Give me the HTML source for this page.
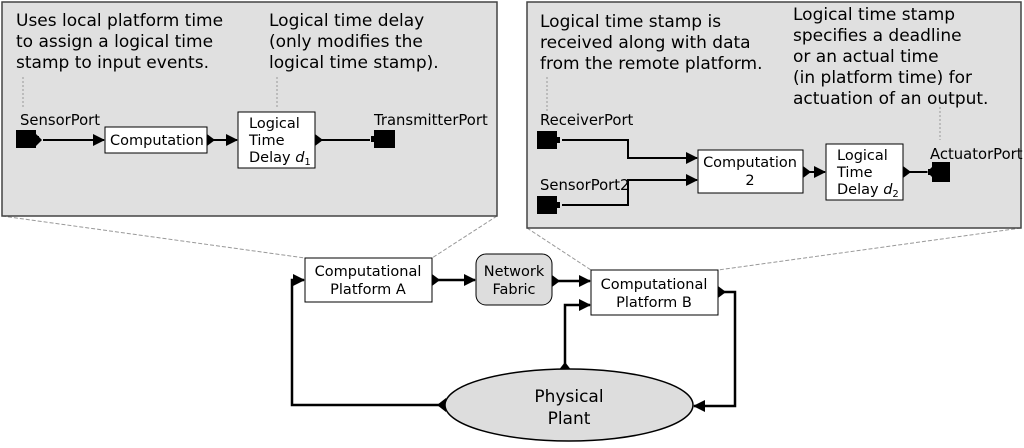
<!DOCTYPE html>
<html><head><style>
body{margin:0;background:#fff;width:1024px;height:443px;overflow:hidden}
svg text{font-family:"DejaVu Sans","Liberation Sans",sans-serif;fill:#000}
</style></head><body>
<svg width="1024" height="443" viewBox="0 0 1024 443" xmlns="http://www.w3.org/2000/svg">
<defs>
<marker id="a" markerWidth="12" markerHeight="12" refX="11" refY="6" orient="auto" markerUnits="userSpaceOnUse"><path d="M0,0 L12,6 L0,12 z" fill="#000"/></marker>
</defs>
<g stroke="#999" stroke-dasharray="4,2" fill="none">
<line x1="2" y1="216" x2="305" y2="258"/><line x1="497" y1="216" x2="432" y2="258"/>
<line x1="527" y1="228" x2="591" y2="270"/><line x1="1021" y1="228" x2="718" y2="270"/>
</g>
<rect x="2" y="2" width="495" height="214" fill="#e0e0e0" stroke="#444" stroke-width="1.5"/>
<rect x="527" y="2" width="494" height="226" fill="#e0e0e0" stroke="#444" stroke-width="1.5"/>
<g font-size="17">
<text x="16" y="26">Uses local platform time</text>
<text x="16" y="47">to assign a logical time</text>
<text x="16" y="68">stamp to input events.</text>
<text x="269" y="26">Logical time delay</text>
<text x="269" y="47">(only modifies the</text>
<text x="269" y="68">logical time stamp).</text>
<text x="540" y="27">Logical time stamp is</text>
<text x="540" y="48">received along with data</text>
<text x="540" y="69">from the remote platform.</text>
<text x="793" y="20">Logical time stamp</text>
<text x="793" y="41">specifies a deadline</text>
<text x="793" y="62">or an actual time</text>
<text x="793" y="83">(in platform time) for</text>
<text x="793" y="104">actuation of an output.</text>
</g>
<g stroke="#999" stroke-dasharray="2,2"><line x1="23" y1="77" x2="23" y2="108"/><line x1="277" y1="77" x2="277" y2="108"/><line x1="547" y1="77" x2="547" y2="112"/><line x1="940" y1="107" x2="940" y2="140"/></g>
<g font-size="14.8">
<text x="20" y="125">SensorPort</text>
<text x="374" y="125">TransmitterPort</text>
<text x="540" y="125">ReceiverPort</text>
<text x="540" y="190">SensorPort2</text>
<text x="930" y="159">ActuatorPort</text>
</g>
<g fill="#000">
<path d="M16,130h20v6h3v6h-3v6h-20z"/>
<path d="M374,130h21v18h-21v-6h-3v-6h3z"/>
<path d="M537,131h20v6h3v6h-3v6h-20z"/>
<path d="M537,196h20v6h3v6h-3v6h-20z"/>
<path d="M932,162h18v20h-18v-7h-4v-6h4z"/>
</g>
<g stroke="#000" stroke-width="2" fill="none">
<line x1="43" y1="140" x2="104" y2="140" marker-end="url(#a)"/>
<line x1="207" y1="140" x2="237" y2="140" marker-end="url(#a)"/>
<line x1="315" y1="140" x2="370" y2="140"/>
<polyline points="562,140 628,140 628,158 697,158" marker-end="url(#a)"/>
<polyline points="562,205 628,205 628,180 697,180" marker-end="url(#a)"/>
<line x1="803" y1="172" x2="825" y2="172" marker-end="url(#a)"/>
<line x1="903" y1="172" x2="927" y2="172"/>
</g>
<g fill="#000">
<path d="M207,134l8,6-8,6z"/><path d="M315,134l8,6-8,6z"/><path d="M803,166l8,6-8,6z"/><path d="M903,166l8,6-8,6z"/><path d="M36,134l6,6-6,6z"/><path d="M927,172l6,-6v12z"/>
</g>
<rect x="105" y="127" width="102" height="26" fill="#fff" stroke="#000"/>
<text x="110" y="145" font-size="14.5">Computation</text>
<rect x="238" y="112" width="77" height="56" fill="#fff" stroke="#000"/>
<g font-size="14.5"><text x="249" y="128">Logical</text><text x="249" y="145">Time</text><text x="249" y="162">Delay <tspan font-style="italic">d</tspan><tspan font-size="10" dy="3">1</tspan></text></g>
<rect x="698" y="150" width="105" height="43" fill="#fff" stroke="#000"/>
<g font-size="14.5"><text x="750" y="167" text-anchor="middle">Computation</text><text x="750" y="185" text-anchor="middle">2</text></g>
<rect x="826" y="144" width="77" height="56" fill="#fff" stroke="#000"/>
<g font-size="14.5"><text x="837" y="160">Logical</text><text x="837" y="177">Time</text><text x="837" y="194">Delay <tspan font-style="italic">d</tspan><tspan font-size="10" dy="3">2</tspan></text></g>
<g stroke="#000" stroke-width="2.5" fill="none">
<polyline points="445,405 292,405 292,280 304,280" marker-end="url(#a)"/>
<line x1="432" y1="280" x2="475" y2="280" marker-end="url(#a)"/>
<line x1="552" y1="281" x2="590" y2="281" marker-end="url(#a)"/>
<polyline points="565,368 565,305 590,305" marker-end="url(#a)"/>
<polyline points="718,292 735,292 735,406 694,406" marker-end="url(#a)"/>
</g>
<g fill="#000"><path d="M432,274l8,6-8,6z"/><path d="M552,275l8,6-8,6z"/><path d="M718,286l8,6-8,6z"/><path d="M446,398l-9,7 9,7z"/><path d="M558,371l7,-9 7,9z"/></g>
<rect x="305" y="258" width="127" height="44" fill="#fff" stroke="#000"/>
<g font-size="14.5"><text x="368" y="276" text-anchor="middle">Computational</text><text x="368" y="294" text-anchor="middle">Platform A</text></g>
<rect x="476" y="254" width="76" height="51" rx="10" fill="#ddd" stroke="#000"/>
<g font-size="14.5"><text x="514" y="276" text-anchor="middle">Network</text><text x="514" y="294" text-anchor="middle">Fabric</text></g>
<rect x="591" y="270" width="127" height="45" fill="#fff" stroke="#000"/>
<g font-size="14.5"><text x="654" y="289" text-anchor="middle">Computational</text><text x="654" y="307" text-anchor="middle">Platform B</text></g>
<ellipse cx="569" cy="405" rx="124" ry="36" fill="#ddd" stroke="#000" stroke-width="1.5"/>
<g font-size="17"><text x="569" y="402" text-anchor="middle">Physical</text><text x="569" y="424" text-anchor="middle">Plant</text></g>
</svg>
</body></html>
